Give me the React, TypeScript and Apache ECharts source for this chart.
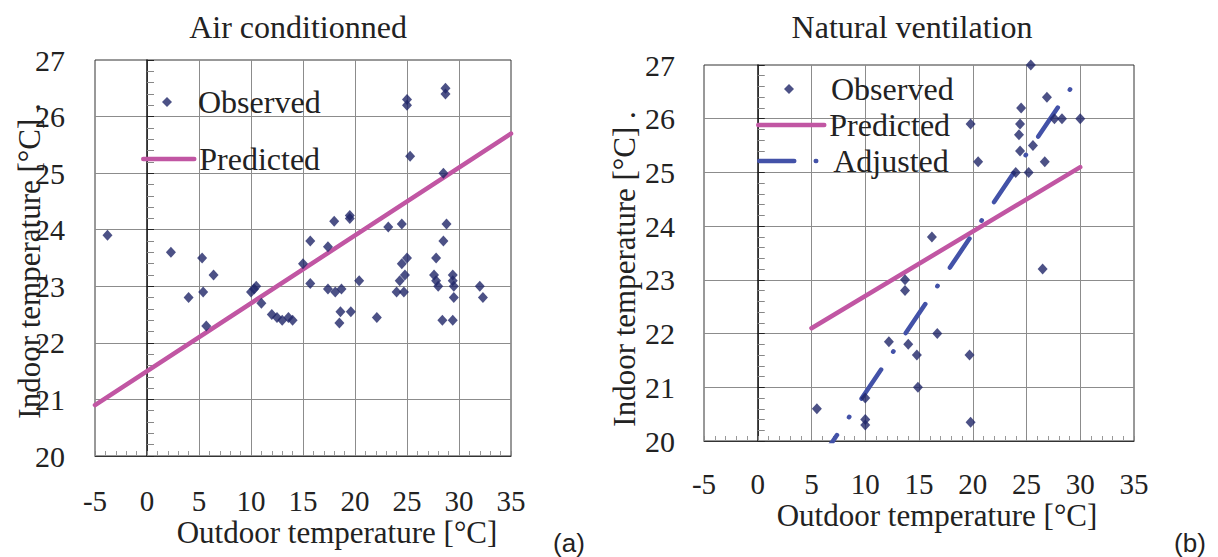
import React, { useEffect, useRef } from 'react';
import * as echarts from 'echarts';

// ---- Data: Air conditioned (a) ----
const acObsX = [-3.8, 2.3, 5.3, 6.4, 4.0, 5.4, 5.7, 10.0, 10.3, 10.5, 11.0, 12.0, 12.5, 13.0, 13.6, 14.0, 15.0, 15.7, 15.7, 17.4, 18.0, 19.5, 19.5, 17.4, 18.1, 18.7, 18.6, 18.5, 19.6, 20.4, 22.1, 23.2, 24.5, 24.0, 24.7, 24.3, 24.8, 24.5, 25.0, 25.0, 25.0, 25.3, 28.7, 28.7, 28.5, 28.8, 28.5, 27.8, 27.6, 27.8, 28.0, 29.4, 29.4, 29.5, 29.5, 28.4, 29.4, 32.0, 32.3];
const acObsY = [23.9, 23.6, 23.5, 23.2, 22.8, 22.9, 22.3, 22.9, 22.95, 23.0, 22.7, 22.5, 22.45, 22.4, 22.45, 22.4, 23.4, 23.8, 23.05, 23.7, 24.15, 24.25, 24.2, 22.95, 22.9, 22.95, 22.55, 22.35, 22.55, 23.1, 22.45, 24.05, 24.1, 22.9, 22.9, 23.1, 23.2, 23.4, 23.5, 26.3, 26.2, 25.3, 26.5, 26.4, 25.0, 24.1, 23.8, 23.5, 23.2, 23.1, 23.0, 23.2, 23.1, 23.0, 22.8, 22.4, 22.4, 23.0, 22.8];
const acPredX = [-5, 35];
const acPredY = [20.9, 25.7];

// ---- Data: Natural ventilation (b) ----
const nvObsX = [5.5, 10.0, 10.0, 10.0, 12.2, 13.7, 13.7, 14.0, 14.8, 14.9, 16.2, 16.7, 19.7, 19.8, 19.8, 20.5, 24.0, 24.3, 24.4, 24.4, 24.5, 25.2, 25.4, 25.6, 26.5, 26.7, 26.9, 27.6, 28.3, 30.0];
const nvObsY = [20.6, 20.8, 20.4, 20.3, 21.85, 23.0, 22.8, 21.8, 21.6, 21.0, 23.8, 22.0, 21.6, 20.35, 25.9, 25.2, 25.0, 25.7, 25.9, 25.4, 26.2, 25.0, 27.0, 25.5, 23.2, 25.2, 26.4, 26.0, 26.0, 26.0];
const nvPredX = [5, 30];
const nvPredY = [22.1, 25.1];
const nvAdjX = [5.55, 29.2];
const nvAdjY = [19.57, 26.59];

// ---- Axis ranges ----
const xMin = -5, xMax = 35, xStep = 5;
const yMin = 20, yMax = 27, yStep = 1;

const FAMILY = 'Liberation Serif';
const FONT = '"Liberation Serif", serif';
const SANS = '"Liberation Sans", Arial, sans-serif';
const NAVY = '#1f2568';
const PINK = '#c156a3';
const BLUE = '#4352a8';
const GRID_GRAY = '#8c8c8c';
const INK = '#222';

const pairs = (xs: number[], ys: number[]) => xs.map((x, i) => [x, ys[i]]);

const tickLabel = (margin: number, size: number) => ({
  margin, color: INK, fontSize: size, fontFamily: FAMILY,
});

function xAxisOf(gridIndex: number, margin: number) {
  return {
    type: 'value', gridIndex, min: xMin, max: xMax, interval: xStep,
    axisLine: { show: true, onZero: false, lineStyle: { color: '#333', width: 1 } },
    axisTick: { show: true, inside: true, length: 5, lineStyle: { color: '#888' } },
    minorTick: { show: true, splitNumber: 5, length: 5, lineStyle: { color: '#999' } },
    splitLine: { show: true, showMinLine: false, showMaxLine: false, lineStyle: { color: GRID_GRAY, width: 1 } },
    axisLabel: tickLabel(margin, 29),
  };
}
function yLabelAxis(gridIndex: number, margin: number) {
  return {
    type: 'value', gridIndex, min: yMin, max: yMax, interval: yStep, position: 'left',
    axisLine: { show: false, onZero: false },
    axisTick: { show: false },
    splitLine: { show: true, showMinLine: false, showMaxLine: false, lineStyle: { color: GRID_GRAY, width: 1 } },
    axisLabel: tickLabel(margin, 30),
  };
}
function yZeroAxis(gridIndex: number) {
  return {
    type: 'value', gridIndex, min: yMin, max: yMax, interval: yStep, position: 'left',
    axisLine: { show: true, onZero: true, lineStyle: { color: '#111', width: 1.5 } },
    axisTick: { show: true, inside: true, length: 7, lineStyle: { color: '#222' } },
    minorTick: { show: true, splitNumber: 5, length: 7, lineStyle: { color: '#888' } },
    splitLine: { show: false },
    axisLabel: { show: false },
  };
}

function txt(text: string, x: number, y: number, font: string, rotation = 0) {
  return {
    type: 'text', x, y, rotation, silent: true,
    style: { text, font, fill: INK, align: 'center', verticalAlign: 'middle', textAlign: 'center', textVerticalAlign: 'middle' },
  };
}

export default function App() {
  const ref = useRef<HTMLDivElement>(null);
  useEffect(() => {
    const chart = echarts.init(ref.current!, null, { renderer: 'svg' });
    const legendBase = {
      orient: 'horizontal', padding: 0, itemGap: 0, selectedMode: false,
      textStyle: { fontSize: 32, fontFamily: FAMILY, color: INK },
    };
    const legendLine = { width: 4.5, cap: 'round' };
    chart.setOption({
      animation: false,
      backgroundColor: '#fff',
      textStyle: { fontFamily: FAMILY, color: INK },
      grid: [
        { left: 95, top: 60, width: 416, height: 396, show: true, borderColor: '#333', borderWidth: 1 },
        { left: 704, top: 65, width: 430, height: 376, show: true, borderColor: '#333', borderWidth: 1 },
      ],
      xAxis: [xAxisOf(0, 30), xAxisOf(1, 28)],
      yAxis: [yLabelAxis(0, 30), yZeroAxis(0), yLabelAxis(1, 29), yZeroAxis(1)],
      legend: [
        {
          ...legendBase, data: ['Observed'], left: 162, top: 86, itemWidth: 10, itemHeight: 10,
          textStyle: { ...legendBase.textStyle, padding: [0, 0, 0, 21] },
        },
        { ...legendBase, data: ['Predicted'], left: 141, top: 143, itemWidth: 51, itemHeight: 4, lineStyle: legendLine },
        {
          ...legendBase, data: ['Observed'], left: 784, top: 73, itemWidth: 10, itemHeight: 10,
          textStyle: { ...legendBase.textStyle, padding: [0, 0, 0, 32] },
        },
        { ...legendBase, data: ['Predicted'], left: 756, top: 109, itemWidth: 66, itemHeight: 4, lineStyle: legendLine },
        { ...legendBase, data: ['Adjusted'], left: 757, top: 145, itemWidth: 69, itemHeight: 4, lineStyle: legendLine },
      ],
      series: [
        {
          type: 'line', name: 'Predicted', xAxisIndex: 0, yAxisIndex: 0, data: pairs(acPredX, acPredY),
          symbol: 'none', clip: true, z: 3,
          lineStyle: { color: PINK, width: 4.5, cap: 'round' }, itemStyle: { color: PINK },
        },
        {
          type: 'scatter', name: 'Observed', xAxisIndex: 0, yAxisIndex: 0, data: pairs(acObsX, acObsY),
          symbol: 'diamond', symbolSize: [10, 11], z: 4, itemStyle: { color: NAVY },
        },
        {
          type: 'line', name: 'Predicted', xAxisIndex: 1, yAxisIndex: 2, data: pairs(nvPredX, nvPredY),
          symbol: 'none', clip: true, z: 3,
          lineStyle: { color: PINK, width: 4.5, cap: 'round' }, itemStyle: { color: PINK },
        },
        {
          type: 'line', name: 'Adjusted', xAxisIndex: 1, yAxisIndex: 2, data: pairs(nvAdjX, nvAdjY),
          symbol: 'none', clip: true, z: 3,
          lineStyle: { color: BLUE, width: 4.5, cap: 'round', type: [35, 21.5, 0.5, 22] }, itemStyle: { color: BLUE },
        },
        {
          type: 'scatter', name: 'Observed', xAxisIndex: 1, yAxisIndex: 2, data: pairs(nvObsX, nvObsY),
          symbol: 'diamond', symbolSize: [10, 11], z: 4, itemStyle: { color: NAVY },
        },
      ],
      graphic: [
        txt('Air conditionned', 298, 27, `32px ${FONT}`),
        txt('Natural ventilation', 912, 27, `32px ${FONT}`),
        txt('Outdoor temperature [°C]', 337, 532, `31px ${FONT}`),
        txt('Outdoor temperature [°C]', 937, 515, `31px ${FONT}`),
        txt('Indoor temperature [°C] .', 29, 261, `31px ${FONT}`, Math.PI / 2),
        txt('Indoor temperature [°C] .', 624, 269, `31px ${FONT}`, Math.PI / 2),
        txt('(a)', 569, 543, `26px ${SANS}`),
        txt('(b)', 1190, 543, `26px ${SANS}`),
      ],
    });
    return () => chart.dispose();
  }, []);
  return <div ref={ref} style={{ position: 'absolute', left: 0, top: 0, width: 1218, height: 557 }} />;
}
